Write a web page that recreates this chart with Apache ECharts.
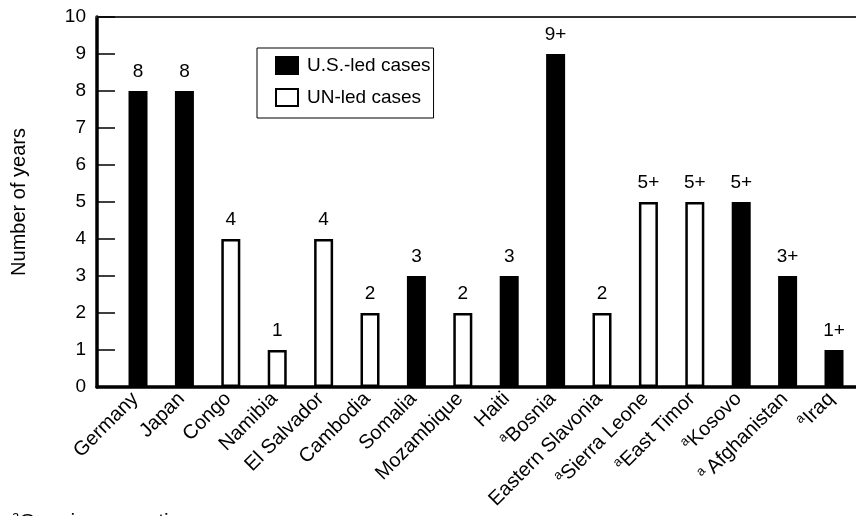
<!DOCTYPE html>
<html>
<head>
<meta charset="utf-8">
<script src="https://cdn.jsdelivr.net/npm/echarts@6/dist/echarts.min.js"></script>
<style>html,body{margin:0;padding:0;background:#fff;}#c{width:856px;height:516px;}</style>
</head>
<body>
<div id="c"></div>
<script>
var categories = ['Germany','Japan','Congo','Namibia','El Salvador','Cambodia','Somalia','Mozambique','Haiti','Bosnia','Eastern Slavonia','Sierra Leone','East Timor','Kosovo','Afghanistan','Iraq'];
var ongoing = [false,false,false,false,false,false,false,false,false,true,false,true,true,true,true,true];
var years = [8,8,4,1,4,2,3,2,3,9,2,5,5,5,3,1];
var valueLabels = ['8','8','4','1','4','2','3','2','3','9+','2','5+','5+','5+','3+','1+'];
var leader = ['US','US','UN','UN','UN','UN','US','UN','US','US','UN','UN','UN','US','US','US'];
var yTicks = [0,1,2,3,4,5,6,7,8,9,10];

var FONT = 'Liberation Sans, Arial, Helvetica, sans-serif';
var usData = [], unData = [];
categories.forEach(function (c, i) {
  var pt = {value: [i, years[i]], label: valueLabels[i]};
  if (leader[i] === 'US') usData.push(pt); else unData.push(pt);
});
var idx = categories.map(function (c, i) { return i; });

var chart = echarts.init(document.getElementById('c'), null, {renderer: 'canvas'});
var labelCfg = {
  show: true, position: 'top', distance: 10, color: '#000', fontSize: 19, fontFamily: FONT,
  formatter: function (p) { return p.data.label; }
};
chart.setOption({
  animation: false,
  backgroundColor: '#fff',
  textStyle: {fontFamily: FONT},
  title: {
    left: 7, top: 505,
    text: '{sup|a}{t|Ongoing operation}',
    textStyle: {fontWeight: 'normal', rich: {
      sup: {fontSize: 13, lineHeight: 13, fontFamily: FONT, color: '#000', verticalAlign: 'top', fontWeight: 'normal'},
      t: {fontSize: 21, lineHeight: 24, fontFamily: FONT, color: '#000', fontWeight: 'normal'}
    }}
  },
  legend: {
    orient: 'vertical', left: 257, top: 48,
    borderColor: '#000', borderWidth: 1, padding: [8, 3, 11, 18],
    itemWidth: 22, itemHeight: 17, itemGap: 13,
    textStyle: {fontSize: 19, lineHeight: 19, fontFamily: FONT, color: '#000', padding: [0, 0, 0, 4]},
    data: [{name: 'U.S.-led cases', icon: 'rect'}, {name: 'UN-led cases', icon: 'rect'}]
  },
  grid: {left: 97, right: 0, top: 17, bottom: 129, containLabel: false},
  xAxis: [{
    type: 'value', min: -0.884, max: 15.474,
    axisLine: {show: true, onZero: false, lineStyle: {color: '#000', width: 3.5}},
    axisTick: {show: false},
    splitLine: {show: false},
    axisLabel: {
      customValues: idx, rotate: 45, margin: 6, color: '#000', fontSize: 20, fontFamily: FONT,
      formatter: function (v) {
        var i = Math.round(v);
        var name = '{t|' + categories[i] + '}';
        return ongoing[i] ? (categories[i] === 'Afghanistan' ? '{sup|a }' : '{sup|a}') + name : name;
      },
      rich: {
        sup: {fontSize: 13, lineHeight: 13, fontFamily: FONT, color: '#000', verticalAlign: 'top'},
        t: {fontSize: 20, lineHeight: 24, fontFamily: FONT, color: '#000', padding: [0, 4, 0, 0]}
      }
    }
  }, {
    type: 'value', position: 'top', min: -0.884, max: 15.474,
    axisLine: {show: true, onZero: false, lineStyle: {color: '#333', width: 2}},
    axisTick: {show: false}, axisLabel: {show: false}, splitLine: {show: false}
  }],
  yAxis: {
    type: 'value', min: 0, max: 10, interval: 1,
    name: 'Number of years', nameLocation: 'middle', nameGap: 68, nameRotate: 90,
    nameTextStyle: {fontSize: 20, fontFamily: FONT, color: '#000'},
    axisLine: {show: true, onZero: false, lineStyle: {color: '#000', width: 3.5}},
    axisTick: {show: true, inside: true, length: 18, lineStyle: {color: '#000', width: 1.5}},
    axisLabel: {customValues: yTicks, margin: 11, color: '#000', fontSize: 19, fontFamily: FONT},
    splitLine: {show: false}
  },
  series: [{
    name: 'U.S.-led cases', type: 'bar', barWidth: 19, barGap: '-100%',
    itemStyle: {color: '#000', borderColor: '#000', borderWidth: 3},
    label: labelCfg, data: usData
  }, {
    name: 'UN-led cases', type: 'bar', barWidth: 19, barGap: '-100%',
    itemStyle: {color: '#fff', borderColor: '#000', borderWidth: 2.5},
    label: labelCfg, data: unData
  }]
});
</script>
</body>
</html>
